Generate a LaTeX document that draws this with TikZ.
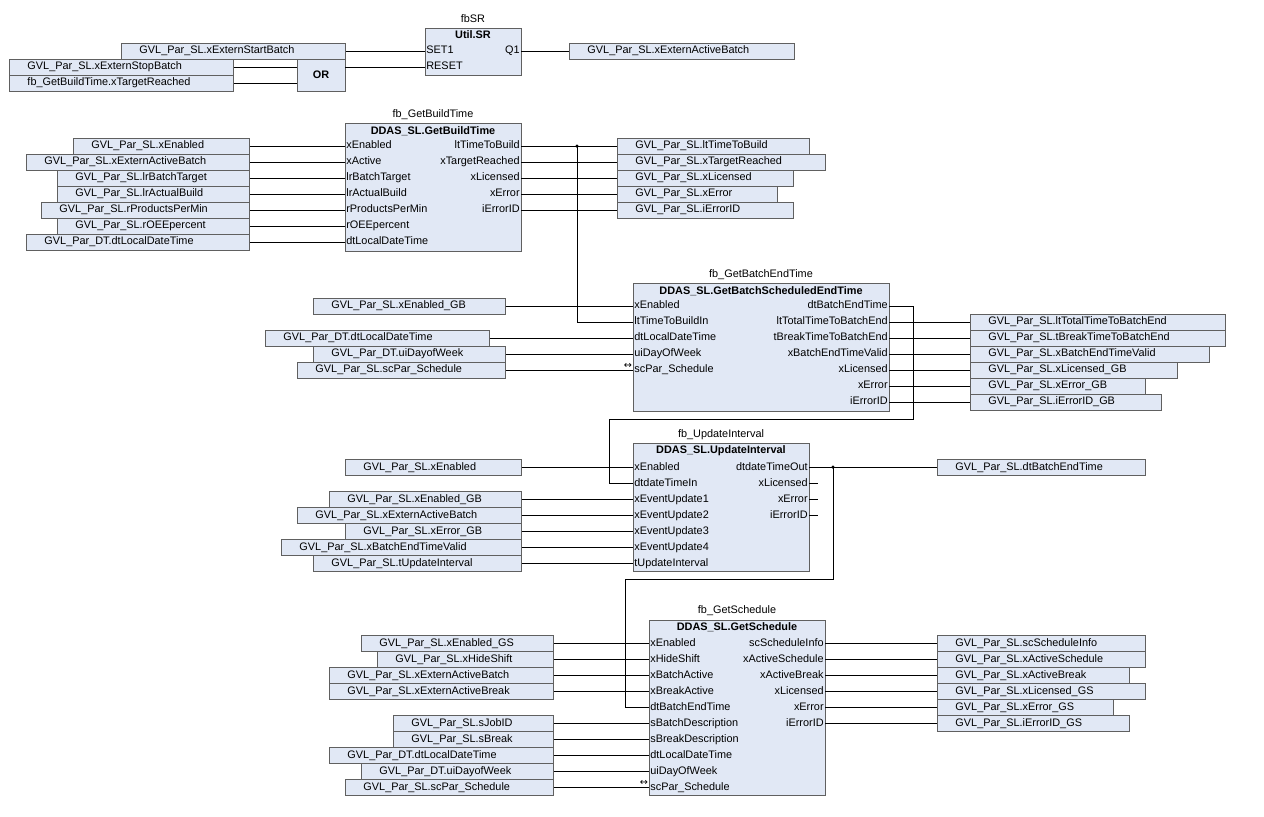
\documentclass[tikz,border=0pt]{standalone}
\usepackage{fontspec}
\setmainfont{Liberation Sans}
\newfontfamily\symfont{DejaVu Sans}

\definecolor{boxfill}{RGB}{225,232,245}
\definecolor{boxline}{RGB}{96,96,96}
\newcommand{\cfcfont}{\fontsize{6.2}{7}\selectfont}

\begin{document}
\begin{tikzpicture}[x=0.02cm, y=-0.02cm,
  wire/.style={line width=0.5pt},
  var/.style={draw=boxline, fill=boxfill, line width=0.55pt, anchor=west, align=left,
    minimum height=0.32cm, inner xsep=0.36cm, inner ysep=0pt, font=\cfcfont,
    text height=4.5pt, text depth=1.1pt},
  fb/.style={draw=boxline, fill=boxfill, line width=0.55pt, anchor=north west, inner sep=0pt},
  pinl/.style={anchor=west, inner xsep=0.02cm, inner ysep=0pt, font=\cfcfont,
    text height=4.5pt, text depth=1.1pt},
  pinr/.style={pinl, anchor=east},
  head/.style={inner sep=0pt, font=\cfcfont\bfseries},
  inst/.style={inner sep=0pt, font=\cfcfont},
  refpin/.style={inner sep=0pt, font=\symfont\fontsize{5.5}{6}\selectfont}]
  \path[use as bounding box, fill=white] (0,0) rectangle (1264,816);

  % SR latch with OR
  \node[fb, anchor=center, minimum width=0.96cm, minimum height=0.64cm, font=\cfcfont\bfseries] (or) at (321,75) {OR};
  \node[fb, minimum width=1.92cm, minimum height=0.94cm] (sr) at (425,28) {};
  \node[inst] (sr-name) at (473,19) {fbSR};
  \node[head] (sr-head) at (473,35) {Util.SR};
  \node[pinl] (sr-set) at (425,51) {SET1};
  \node[pinl] (sr-reset) at (425,67) {RESET};
  \node[pinr] (sr-q) at (521,51) {Q1};

  \node[var, text width=3.76cm] (sbStart) at (121,51) {GVL\_Par\_SL.xExternStartBatch};
  \node[var, text width=3.76cm] (sbStop) at (9,67) {GVL\_Par\_SL.xExternStopBatch};
  \node[var, text width=3.76cm] (sbReached) at (9,83) {fb\_GetBuildTime.xTargetReached};
  \node[var, text width=3.78cm] (sbOut) at (569,51) {GVL\_Par\_SL.xExternActiveBatch};

  \draw[wire] (sbStart.east) -- (sr-set.west);
  \draw[wire] (sbStop.east) -- (sbStop.east -| or.west);
  \draw[wire] (sbReached.east) -- (sbReached.east -| or.west);
  \draw[wire] (sr-reset.west -| or.east) -- (sr-reset.west);
  \draw[wire] (sr-q.east) -- (sbOut.west);

  % GetBuildTime
  \node[fb, minimum width=3.52cm, minimum height=2.56cm] (bt) at (345,123) {};
  \node[inst] (bt-name) at (433,115) {fb\_GetBuildTime};
  \node[head] (bt-head) at (433,131) {DDAS\_SL.GetBuildTime};
  \foreach \y/\xl/\val/\pn [count=\i] in {
      146/73/GVL\_Par\_SL.xEnabled/xEnabled,
      162/26/GVL\_Par\_SL.xExternActiveBatch/xActive,
      178/57/GVL\_Par\_SL.lrBatchTarget/lrBatchTarget,
      194/57/GVL\_Par\_SL.lrActualBuild/lrActualBuild,
      210/41/GVL\_Par\_SL.rProductsPerMin/rProductsPerMin,
      226/57/GVL\_Par\_SL.rOEEpercent/rOEEpercent,
      242/26/GVL\_Par\_DT.dtLocalDateTime/dtLocalDateTime} {
    \pgfmathsetmacro\tw{(249-\xl-36)*0.02}
    \node[var, text width=\tw cm] (bt-iv\i) at (\xl,\y) {\val};
    \node[pinl] (bt-ip\i) at (345,\y) {\pn};
    \draw[wire] (bt-iv\i.east) -- (bt-ip\i.west);
  }
  \foreach \y/\xr/\val/\pn [count=\i] in {
      146/809/GVL\_Par\_SL.ltTimeToBuild/ltTimeToBuild,
      162/825/GVL\_Par\_SL.xTargetReached/xTargetReached,
      178/793/GVL\_Par\_SL.xLicensed/xLicensed,
      194/777/GVL\_Par\_SL.xError/xError,
      210/793/GVL\_Par\_SL.iErrorID/iErrorID} {
    \pgfmathsetmacro\tw{(\xr-617-36)*0.02}
    \node[pinr] (bt-op\i) at (521,\y) {\pn};
    \node[var, text width=\tw cm] (bt-ov\i) at (617,\y) {\val};
    \draw[wire] (bt-op\i.east) -- (bt-ov\i.west);
  }

  % GetBatchScheduledEndTime
  \node[fb, minimum width=5.12cm, minimum height=2.56cm] (be) at (633,283) {};
  \node[inst] (be-name) at (761,275) {fb\_GetBatchEndTime};
  \node[head] (be-head) at (761,291) {DDAS\_SL.GetBatchScheduledEndTime};
  \node[pinl] (be-tin) at (633,322) {ltTimeToBuildIn};
  \node[pinr] (be-dt) at (889,306) {dtBatchEndTime};
  \foreach \y/\xl/\xr/\val/\pn [count=\i] in {
      306/313/505/GVL\_Par\_SL.xEnabled\_GB/xEnabled,
      338/265/489/GVL\_Par\_DT.dtLocalDateTime/dtLocalDateTime,
      354/313/505/GVL\_Par\_DT.uiDayofWeek/uiDayOfWeek,
      370/297/505/GVL\_Par\_SL.scPar\_Schedule/scPar\_Schedule} {
    \pgfmathsetmacro\tw{(\xr-\xl-36)*0.02}
    \node[var, text width=\tw cm] (be-iv\i) at (\xl,\y) {\val};
    \node[pinl] (be-ip\i) at (633,\y) {\pn};
    \draw[wire] (be-iv\i.east) -- (be-ip\i.west);
  }
  \node[refpin] (be-ref) at (628,366) {↔};
  \foreach \y/\xr/\val/\pn [count=\i] in {
      322/1225/GVL\_Par\_SL.ltTotalTimeToBatchEnd/ltTotalTimeToBatchEnd,
      338/1225/GVL\_Par\_SL.tBreakTimeToBatchEnd/tBreakTimeToBatchEnd,
      354/1209/GVL\_Par\_SL.xBatchEndTimeValid/xBatchEndTimeValid,
      370/1177/GVL\_Par\_SL.xLicensed\_GB/xLicensed,
      386/1145/GVL\_Par\_SL.xError\_GB/xError,
      402/1161/GVL\_Par\_SL.iErrorID\_GB/iErrorID} {
    \pgfmathsetmacro\tw{(\xr-970-36)*0.02}
    \node[pinr] (be-op\i) at (889,\y) {\pn};
    \node[var, text width=\tw cm] (be-ov\i) at (970,\y) {\val};
    \draw[wire] (be-op\i.east) -- (be-ov\i.west);
  }

  % build time into batch end time
  \coordinate (jn1) at (577,146);
  \fill (jn1) circle (0.035cm);
  \draw[wire] (jn1) |- (be-tin.west);

  % UpdateInterval
  \node[fb, minimum width=3.52cm, minimum height=2.56cm] (ui) at (633,443) {};
  \node[inst] (ui-name) at (721,435) {fb\_UpdateInterval};
  \node[head] (ui-head) at (721,451) {DDAS\_SL.UpdateInterval};
  \node[pinl] (ui-tin) at (633,483) {dtdateTimeIn};
  \foreach \y/\xl/\val/\pn [count=\i] in {
      467/345/GVL\_Par\_SL.xEnabled/xEnabled,
      499/329/GVL\_Par\_SL.xEnabled\_GB/xEventUpdate1,
      515/297/GVL\_Par\_SL.xExternActiveBatch/xEventUpdate2,
      531/345/GVL\_Par\_SL.xError\_GB/xEventUpdate3,
      547/281/GVL\_Par\_SL.xBatchEndTimeValid/xEventUpdate4,
      563/313/GVL\_Par\_SL.tUpdateInterval/tUpdateInterval} {
    \pgfmathsetmacro\tw{(521-\xl-36)*0.02}
    \node[var, text width=\tw cm] (ui-iv\i) at (\xl,\y) {\val};
    \node[pinl] (ui-ip\i) at (633,\y) {\pn};
    \draw[wire] (ui-iv\i.east) -- (ui-ip\i.west);
  }
  \node[pinr] (ui-tout) at (809,467) {dtdateTimeOut};
  \node[var, text width=3.44cm] (ui-ov) at (937,467) {GVL\_Par\_SL.dtBatchEndTime};
  \draw[wire] (ui-tout.east) -- (ui-ov.west);
  \foreach \y/\pn [count=\i] in {483/xLicensed, 499/xError, 515/iErrorID} {
    \node[pinr] (ui-os\i) at (809,\y) {\pn};
    \draw[wire] (ui-os\i.east) -- ++(9,0);
  }

  % batch end time back into UpdateInterval
  \draw[wire] (be-dt.east) -- ++(24,0) |- (609,419) |- (ui-tin.west);

  % GetSchedule
  \node[fb, minimum width=3.52cm, minimum height=3.5cm] (gs) at (649,620) {};
  \node[inst] (gs-name) at (737,611) {fb\_GetSchedule};
  \node[head] (gs-head) at (737,627) {DDAS\_SL.GetSchedule};
  \node[pinl] (gs-dt) at (649,707) {dtBatchEndTime};
  \foreach \y/\xl/\val/\pn [count=\i] in {
      643/361/GVL\_Par\_SL.xEnabled\_GS/xEnabled,
      659/377/GVL\_Par\_SL.xHideShift/xHideShift,
      675/329/GVL\_Par\_SL.xExternActiveBatch/xBatchActive,
      691/329/GVL\_Par\_SL.xExternActiveBreak/xBreakActive,
      723/393/GVL\_Par\_SL.sJobID/sBatchDescription,
      739/393/GVL\_Par\_SL.sBreak/sBreakDescription,
      755/329/GVL\_Par\_DT.dtLocalDateTime/dtLocalDateTime,
      771/361/GVL\_Par\_DT.uiDayofWeek/uiDayOfWeek,
      787/345/GVL\_Par\_SL.scPar\_Schedule/scPar\_Schedule} {
    \pgfmathsetmacro\tw{(553-\xl-36)*0.02}
    \node[var, text width=\tw cm] (gs-iv\i) at (\xl,\y) {\val};
    \node[pinl] (gs-ip\i) at (649,\y) {\pn};
    \draw[wire] (gs-iv\i.east) -- (gs-ip\i.west);
  }
  \node[refpin] (gs-ref) at (644,783) {↔};
  \foreach \y/\xr/\val/\pn [count=\i] in {
      643/1145/GVL\_Par\_SL.scScheduleInfo/scScheduleInfo,
      659/1145/GVL\_Par\_SL.xActiveSchedule/xActiveSchedule,
      675/1129/GVL\_Par\_SL.xActiveBreak/xActiveBreak,
      691/1145/GVL\_Par\_SL.xLicensed\_GS/xLicensed,
      707/1113/GVL\_Par\_SL.xError\_GS/xError,
      723/1129/GVL\_Par\_SL.iErrorID\_GS/iErrorID} {
    \pgfmathsetmacro\tw{(\xr-937-36)*0.02}
    \node[pinr] (gs-op\i) at (825,\y) {\pn};
    \node[var, text width=\tw cm] (gs-ov\i) at (937,\y) {\val};
    \draw[wire] (gs-op\i.east) -- (gs-ov\i.west);
  }

  % update interval into schedule
  \coordinate (jn2) at (833,467);
  \fill (jn2) circle (0.035cm);
  \draw[wire] (jn2) |- (625,579) |- (gs-dt.west);
\end{tikzpicture}
\end{document}
